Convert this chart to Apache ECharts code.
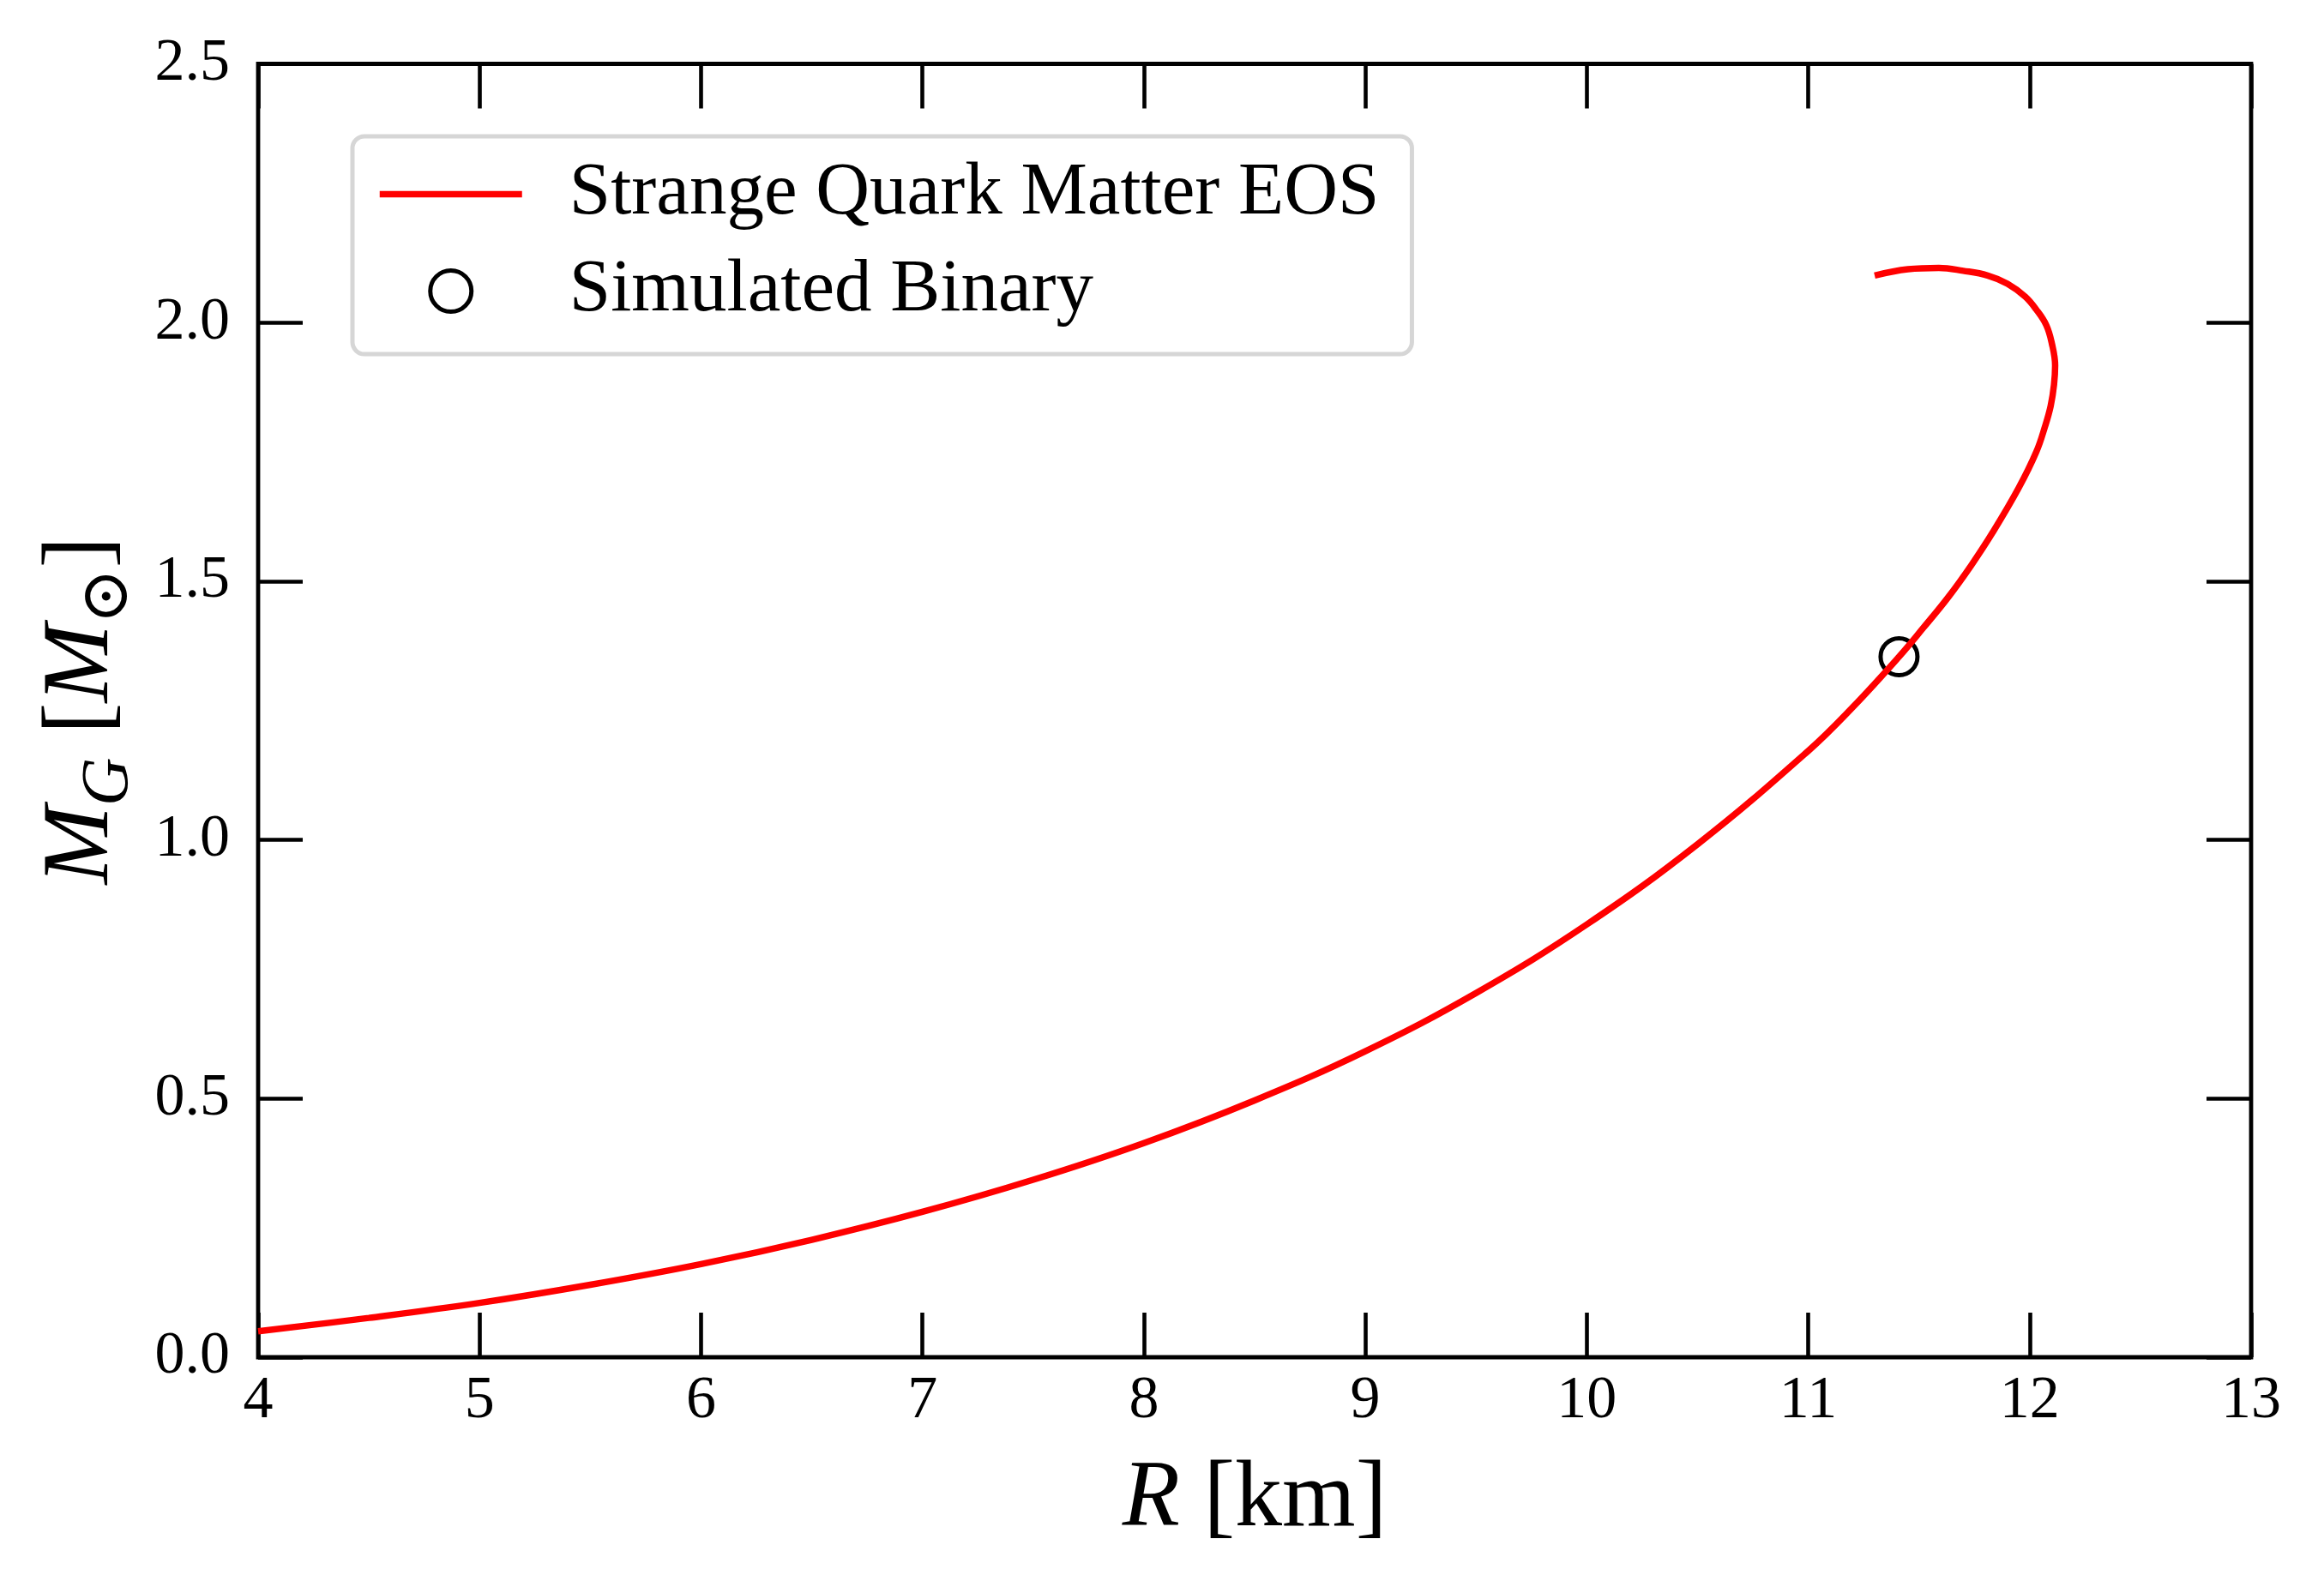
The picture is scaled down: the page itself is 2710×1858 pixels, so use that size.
<!DOCTYPE html>
<html><head><meta charset="utf-8">
<script src="https://cdn.jsdelivr.net/npm/echarts@6/dist/echarts.min.js"></script>
<style>html,body{margin:0;padding:0;background:#fff}#c{width:2710px;height:1858px}</style>
</head><body><div id="c"></div><script>
// Mass-radius curve (R in km, M_G in solar masses)
const radiusKm = [4.0, 4.5, 5.0, 5.5, 6.0, 6.5, 7.0, 7.5, 8.0, 8.5, 9.0, 9.5, 10.0, 10.5, 11.0, 11.2, 11.41, 11.52, 11.632, 11.735, 11.834, 11.95, 12.03, 12.07, 12.095, 12.11, 12.115, 12.10, 12.075, 12.03, 11.98, 11.90, 11.81, 11.70, 11.59, 11.45, 11.30];
const massMsun = [0.050, 0.076, 0.105, 0.140, 0.180, 0.227, 0.281, 0.343, 0.414, 0.4965, 0.5915, 0.704, 0.8365, 0.9915, 1.172, 1.256, 1.354, 1.410, 1.469, 1.530, 1.595, 1.680, 1.750, 1.800, 1.839, 1.880, 1.917, 1.960, 1.995, 2.025, 2.050, 2.075, 2.091, 2.100, 2.1056, 2.103, 2.091];
const binaryR = [11.41];
const binaryM = [1.354];
const xTicks = [4, 5, 6, 7, 8, 9, 10, 11, 12, 13];
const yTicks = ['0.0', '0.5', '1.0', '1.5', '2.0', '2.5'];
const seriesNames = ['Strange Quark Matter EOS', 'Simulated Binary'];

const FONT = "'Liberation Serif', 'DejaVu Serif', serif";
const chart = echarts.init(document.getElementById('c'), null, {renderer: 'canvas'});

const xMin = xTicks[0], xMax = xTicks[xTicks.length - 1];
const yMin = parseFloat(yTicks[0]), yMax = parseFloat(yTicks[yTicks.length - 1]);

const tickStyle = {show: true, inside: true, length: 52, lineStyle: {color: '#000', width: 4.6}};
const noLine = {show: false, onZero: false};
const labelBase = {fontFamily: FONT, fontSize: 70, color: '#000'};

chart.setOption({
  backgroundColor: '#fff',
  animation: false,
  grid: {left: 301, top: 74.5, width: 2324, height: 1508.5, show: true, borderColor: '#000', borderWidth: 4.8, backgroundColor: 'transparent'},
  legend: {
    orient: 'vertical', left: 411, top: 159,
    padding: [24, 38, 30, 28],
    itemWidth: 166, itemHeight: 48, itemGap: 26,
    backgroundColor: '#fff', borderColor: '#d6d6d6', borderWidth: 5, borderRadius: 14,
    textStyle: {fontFamily: FONT, fontSize: 87, color: '#000', padding: [0, 0, 0, 50], lineHeight: 84},
    data: [
      {name: seriesNames[0], itemStyle: {color: 'rgba(0,0,0,0)', borderColor: 'rgba(0,0,0,0)', borderWidth: 0}, lineStyle: {color: '#ff0000', width: 7.5}},
      {name: seriesNames[1], icon: 'circle', itemStyle: {color: 'rgba(0,0,0,0)', borderColor: '#000', borderWidth: 5}}
    ]
  },
  xAxis: [
    {type: 'value', position: 'bottom', min: xMin, max: xMax, interval: 1,
     axisLine: noLine, splitLine: {show: false}, axisTick: tickStyle,
     axisLabel: Object.assign({margin: 17, formatter: v => String(v)}, labelBase),
     name: '{it|R} [km]', nameLocation: 'middle', nameGap: 112,
     nameTextStyle: {fontFamily: FONT, fontSize: 110, color: '#000',
       rich: {it: {fontFamily: FONT, fontSize: 110, fontStyle: 'italic', color: '#000'}}}},
    {type: 'value', position: 'top', min: xMin, max: xMax, interval: 1,
     axisLine: noLine, splitLine: {show: false}, axisTick: tickStyle, axisLabel: {show: false}}
  ],
  yAxis: [
    {type: 'value', position: 'left', min: yMin, max: yMax, interval: 0.5,
     axisLine: noLine, splitLine: {show: false}, axisTick: tickStyle,
     axisLabel: Object.assign({margin: 33, formatter: v => v.toFixed(1)}, labelBase),
     name: '{it|M}{sub|G} [{it|M}{sub|\u2299}]', nameLocation: 'middle', nameGap: 135,
     nameTextStyle: {fontFamily: FONT, fontSize: 110, color: '#000', lineHeight: 140,
       rich: {
         it: {fontFamily: FONT, fontSize: 110, fontStyle: 'italic', color: '#000', lineHeight: 140, verticalAlign: 'middle'},
         sub: {fontFamily: FONT, fontSize: 78, fontStyle: 'italic', color: '#000', lineHeight: 140, verticalAlign: 'bottom'}
       }}},
    {type: 'value', position: 'right', min: yMin, max: yMax, interval: 0.5,
     axisLine: noLine, splitLine: {show: false}, axisTick: tickStyle, axisLabel: {show: false}}
  ],
  series: [
    {name: seriesNames[0], type: 'line', xAxisIndex: 0, yAxisIndex: 0, z: 3,
     data: radiusKm.map((r, i) => [r, massMsun[i]]),
     symbol: 'none', smooth: 0.4, lineStyle: {color: '#ff0000', width: 7.5}, itemStyle: {color: '#ff0000'}},
    {name: seriesNames[1], type: 'scatter', xAxisIndex: 0, yAxisIndex: 0, z: 2,
     data: binaryR.map((r, i) => [r, binaryM[i]]),
     symbol: 'circle', symbolSize: 43,
     itemStyle: {color: 'rgba(0,0,0,0)', borderColor: '#000', borderWidth: 5, opacity: 1}}
  ]
});
</script></body></html>
